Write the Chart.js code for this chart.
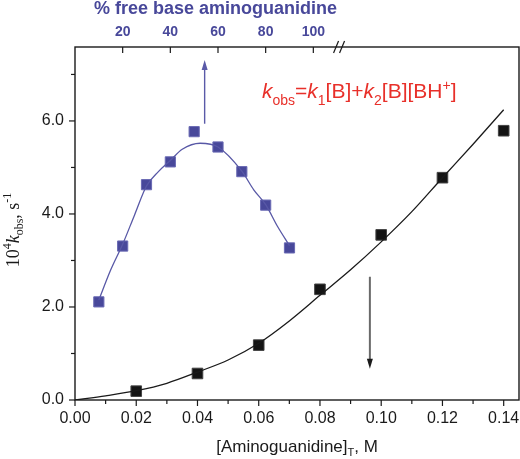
<!DOCTYPE html>
<html lang="en">
<head>
<meta charset="UTF-8" />
<title>kobs vs aminoguanidine</title>
<script src="https://cdn.jsdelivr.net/npm/chart.js"></script>
<style>
  * { margin: 0; padding: 0; box-sizing: border-box; }
  body { background: #fff; }
</style>
</head>
<body>
<canvas id="chart" width="520" height="459"></canvas>
<script>
// black: 10^4 kobs vs [Aminoguanidine]T (M)
const concM = [0.02, 0.04, 0.06, 0.08, 0.10, 0.12, 0.14];
const kobsConc = [0.19, 0.57, 1.18, 2.38, 3.55, 4.78, 5.79];
// black fitted curve
const concFitX = [0, 0.01, 0.02, 0.03, 0.04, 0.05, 0.06, 0.07, 0.08, 0.09, 0.10, 0.11, 0.12, 0.13, 0.14];
const concFitY = [0, 0.09, 0.2, 0.36, 0.6, 0.86, 1.22, 1.7, 2.25, 2.8, 3.4, 4.05, 4.78, 5.5, 6.24];

// blue: 10^4 kobs vs % free base aminoguanidine (top axis)
const freeBase = [10, 20, 30, 40, 50, 60, 70, 80, 90];
const kobsBase = [2.11, 3.31, 4.63, 5.12, 5.77, 5.44, 4.91, 4.19, 3.27];
const baseFitX = [10, 15, 20, 25, 30, 35, 40, 45, 52.5, 60, 70, 75, 80, 85, 90];
const baseFitY = [2.15, 2.8, 3.35, 3.98, 4.6, 4.91, 5.15, 5.39, 5.52, 5.44, 4.92, 4.52, 4.2, 3.73, 3.32];

const topTicks = [20, 40, 60, 80, 100];

const BLUE = '#48489a';
const RED = '#e8302a';
const INK = '#1a1a1a';
const SANS = '"Liberation Sans", Arial, sans-serif';
const SERIF = '"Liberation Serif", "Times New Roman", serif';

function pts(xs, ys) {
  return xs.map((v, i) => ({ x: v, y: ys[i] }));
}

// text with sub/superscripts: [text, font, dy]
function drawRich(ctx, parts, x, y, align) {
  let w = 0;
  parts.forEach(p => { ctx.font = p[1]; w += ctx.measureText(p[0]).width; });
  let cx = align === 'center' ? x - w / 2 : x;
  parts.forEach(p => {
    ctx.font = p[1];
    ctx.fillText(p[0], cx, y + (p[2] || 0));
    cx += ctx.measureText(p[0]).width;
  });
}

function seg(ctx, x1, y1, x2, y2) {
  ctx.beginPath();
  ctx.moveTo(x1, y1);
  ctx.lineTo(x2, y2);
  ctx.stroke();
}

function arrow(ctx, x, yFrom, yTo, color, width, headColor) {
  const dir = yTo > yFrom ? 1 : -1;
  ctx.strokeStyle = color;
  ctx.lineWidth = width;
  seg(ctx, x, yFrom, x, yTo - dir * 8);
  ctx.fillStyle = headColor || color;
  ctx.beginPath();
  ctx.moveTo(x, yTo);
  ctx.lineTo(x - 3, yTo - dir * 10);
  ctx.lineTo(x + 3, yTo - dir * 10);
  ctx.closePath();
  ctx.fill();
}

// hidden tick marks only reserve room between axis and labels
const spacer = len => ({ display: true, drawOnChartArea: false, drawTicks: true, tickLength: len, tickColor: 'rgba(0,0,0,0)' });

const decor = {
  id: 'decor',
  afterDraw(chart) {
    const { ctx, chartArea: a, scales } = chart;
    const sx = scales.x, sx2 = scales.x2, sy = scales.y;
    ctx.save();

    // frame
    ctx.strokeStyle = INK;
    ctx.lineWidth = 1.4;
    ctx.strokeRect(a.left, a.top, a.right - a.left, a.bottom - a.top);

    // bottom ticks (outward)
    ctx.lineWidth = 1.2;
    sx.ticks.forEach(t => {
      const major = Math.round(t.value * 100) % 2 === 0;
      const px = sx.getPixelForValue(t.value);
      seg(ctx, px, a.bottom, px, a.bottom + (major ? 6 : 4));
    });
    // left ticks (outward)
    sy.ticks.forEach(t => {
      const major = Math.round(t.value) % 2 === 0;
      const py = sy.getPixelForValue(t.value);
      seg(ctx, a.left, py, a.left - (major ? 6 : 4), py);
    });
    // top ticks (inward)
    topTicks.forEach(v => {
      const px = sx2.getPixelForValue(v);
      seg(ctx, px, a.top, px, a.top + 6);
    });
    // axis break on top axis
    const bx = sx2.getPixelForValue(111);
    seg(ctx, bx - 6, a.top + 6, bx - 1, a.top - 6);
    seg(ctx, bx, a.top + 6, bx + 5, a.top - 6);

    // arrows
    arrow(ctx, sx2.getPixelForValue(54.4), sy.getPixelForValue(5.94), sy.getPixelForValue(7.31), '#5a5aa8', 1.4);
    arrow(ctx, sx.getPixelForValue(0.0963), sy.getPixelForValue(2.65), sy.getPixelForValue(0.67), '#6a6a6a', 2, INK);

    // top title
    ctx.fillStyle = BLUE;
    ctx.textBaseline = 'alphabetic';
    ctx.textAlign = 'left';
    drawRich(ctx, [['% free base aminoguanidine', 'bold 18px ' + SANS]], 215.5, 14, 'center');

    // equation
    ctx.fillStyle = RED;
    const big = '21px ' + SANS, bigI = 'italic 21px ' + SANS, small = '14px ' + SANS;
    drawRich(ctx, [
      ['k', bigI], ['obs', small, 6.5], ['=', big], ['k', bigI], ['1', small, 6.5],
      ['[B]+', big], ['k', bigI], ['2', small, 6.5], ['[B][BH', big], ['+', small, -8], [']', big]
    ], 262, 98, 'left');

    // bottom title
    ctx.fillStyle = INK;
    drawRich(ctx, [
      ['[Aminoguanidine]', '17px ' + SANS], ['T', '11px ' + SANS, 4], [', M', '17px ' + SANS]
    ], (a.left + a.right) / 2, 452, 'center');

    // y title (rotated)
    ctx.translate(18.5, 230);
    ctx.rotate(-Math.PI / 2);
    drawRich(ctx, [
      ['10', '18px ' + SERIF], ['4', '12px ' + SERIF, -8], ['k', 'italic 18px ' + SERIF],
      ['obs', '12px ' + SERIF, 4], [', s', '18px ' + SERIF], ['-1', '12px ' + SERIF, -8]
    ], 0, 0, 'center');

    ctx.restore();
  }
};

new Chart(document.getElementById('chart'), {
  type: 'scatter',
  data: {
    datasets: [
      {
        data: pts(baseFitX, baseFitY), xAxisID: 'x2', yAxisID: 'y',
        showLine: true, pointRadius: 0, borderColor: '#5858a6', borderWidth: 1.3,
        cubicInterpolationMode: 'monotone'
      },
      {
        data: pts(freeBase, kobsBase), xAxisID: 'x2', yAxisID: 'y',
        pointStyle: 'rect', pointRadius: 7.2, backgroundColor: BLUE, borderColor: '#6a6ab4', borderWidth: 1
      },
      {
        data: pts(concFitX, concFitY), xAxisID: 'x', yAxisID: 'y',
        showLine: true, pointRadius: 0, borderColor: INK, borderWidth: 1.3,
        cubicInterpolationMode: 'monotone'
      },
      {
        data: pts(concM, kobsConc), xAxisID: 'x', yAxisID: 'y',
        pointStyle: 'rect', pointRadius: 7.5, backgroundColor: '#141414', borderColor: '#444', borderWidth: 1
      }
    ]
  },
  options: {
    responsive: false,
    animation: false,
    events: [],
    layout: { autoPadding: false, padding: { left: 0, right: 1, top: 0, bottom: 0 } },
    plugins: { legend: { display: false }, tooltip: { enabled: false } },
    scales: {
      x: {
        type: 'linear', position: 'bottom', min: 0, max: 0.145, bounds: 'data',
        grid: spacer(3), border: { display: false },
        ticks: {
          stepSize: 0.01, includeBounds: false, padding: 6, color: INK, maxRotation: 0, autoSkip: false,
          font: { family: SANS, size: 16 },
          callback: v => (Math.round(v * 100) % 2 === 0 ? v.toFixed(2) : '')
        },
        afterFit(s) { s.height = 59; s.paddingLeft = 0; s.paddingRight = 0; }
      },
      x2: {
        type: 'linear', position: 'top', min: 0, max: 186.3, bounds: 'data',
        grid: { display: false }, border: { display: false },
        ticks: {
          stepSize: 20, includeBounds: false, padding: -2, color: BLUE, maxRotation: 0, autoSkip: false,
          font: { family: SANS, size: 14, weight: 'bold' },
          callback: v => (topTicks.includes(Math.round(v)) ? String(Math.round(v)) : '')
        },
        afterFit(s) { s.height = 47; s.paddingLeft = 0; s.paddingRight = 0; }
      },
      y: {
        type: 'linear', min: 0, max: 7.59, bounds: 'data',
        grid: spacer(11), border: { display: false },
        ticks: {
          stepSize: 1, includeBounds: false, padding: 0, color: INK, autoSkip: false,
          font: { family: SANS, size: 16 },
          callback: v => (Math.round(v) % 2 === 0 ? v.toFixed(1) : '')
        },
        afterFit(s) { s.width = 75; s.paddingTop = 0; s.paddingBottom = 0; }
      }
    }
  },
  plugins: [decor]
});
</script>
</body>
</html>
